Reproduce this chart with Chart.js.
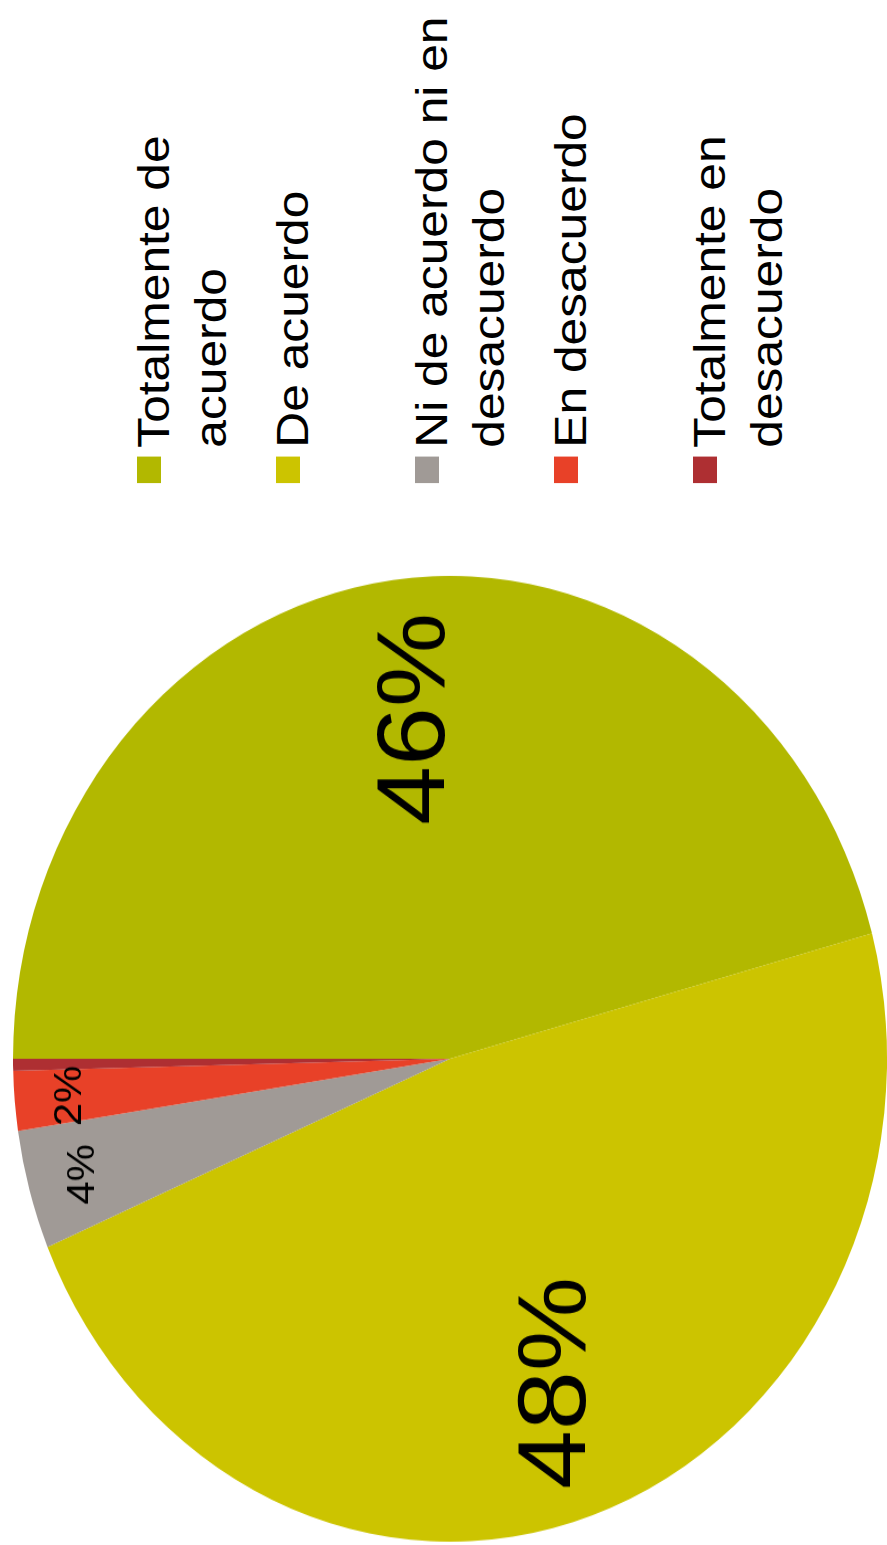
<!DOCTYPE html>
<html>
<head>
<meta charset="utf-8">
<script src="https://cdn.jsdelivr.net/npm/chart.js@4/dist/chart.umd.min.js"></script>
<style>
    html, body { margin: 0; padding: 0; background: #fff; }
    body { width: 887px; height: 1545px; overflow: hidden; position: relative; }
    /* chart is laid out landscape, then turned to read bottom-to-top */
    #frame {
        position: absolute; left: 0; top: 0;
        width: 1398px; height: 887px;
        transform-origin: 0 0;
        transform: translate(0px, 1545px) scale(1, 1.105) rotate(-90deg);
        font-family: "Liberation Sans", Arial, sans-serif;
    }
    #pie-box { position: absolute; left: 3px; top: 13px; width: 874px; height: 874px; }
    .legend-item { position: absolute; left: 961px; }
    .legend-box { position: absolute; left: 0; width: 24px; height: 24px; }
    .legend-text {
        position: absolute; left: 32px; top: -12px; width: 405px;
        font-size: 45px; line-height: 57px; color: #000;
    }
</style>
</head>
<body>
<div id="frame">
    <div id="pie-box"><canvas id="pie"></canvas></div>
    <div id="legend"></div>
</div>
<script>
const categories = [
    'Totalmente de acuerdo',
    'De acuerdo',
    'Ni de acuerdo ni en desacuerdo',
    'En desacuerdo',
    'Totalmente en desacuerdo'
];
const shares = [46, 48, 4, 2, 0.4];
const sliceColors = ['#B2B800', '#CCC400', '#A09A96', '#E84128', '#AE2F32'];

// label look per slice: big numbers inside, small ones near the rim
const labelSizes  = [96, 96, 38, 38, 38];
const labelRadius = [0.71, 0.71, 0.88, 0.88, 0.88];

const total = shares.reduce((a, b) => a + b, 0);

// legend, one entry every 139px
const legend = document.getElementById('legend');
legend.innerHTML = categories.map((c, i) => `
    <div class="legend-item" style="top:${137 + i * 139}px">
        <div class="legend-box" style="background:${sliceColors[i]}"></div>
        <div class="legend-text">${c}</div>
    </div>
`).join('');

const percentLabels = {
    id: 'percentLabels',
    afterDatasetsDraw(chart) {
        const ctx = chart.ctx;
        const meta = chart.getDatasetMeta(0);
        ctx.save();
        ctx.fillStyle = '#000';
        ctx.textAlign = 'center';
        ctx.textBaseline = 'alphabetic';
        meta.data.forEach((arc, i) => {
            const pct = Math.round(shares[i] / total * 100);
            if (pct < 1) return;
            const p = arc.getProps(['x', 'y', 'startAngle', 'endAngle', 'outerRadius'], true);
            const mid = (p.startAngle + p.endAngle) / 2;
            const r = p.outerRadius * labelRadius[i];
            const size = labelSizes[i];
            ctx.font = `${size}px "Liberation Sans", Arial, sans-serif`;
            const x = p.x + Math.cos(mid) * r;
            const y = p.y + Math.sin(mid) * r + size * 0.716 / 2;
            ctx.fillText(pct + '%', x, y);
        });
        ctx.restore();
    }
};

new Chart(document.getElementById('pie'), {
    type: 'pie',
    data: {
        labels: categories,
        datasets: [{
            data: shares,
            backgroundColor: sliceColors,
            borderWidth: 0
        }]
    },
    options: {
        responsive: true,
        maintainAspectRatio: false,
        animation: false,
        layout: { padding: 0 },
        plugins: {
            legend: { display: false },
            tooltip: { enabled: false }
        }
    },
    plugins: [percentLabels]
});
</script>
</body>
</html>
